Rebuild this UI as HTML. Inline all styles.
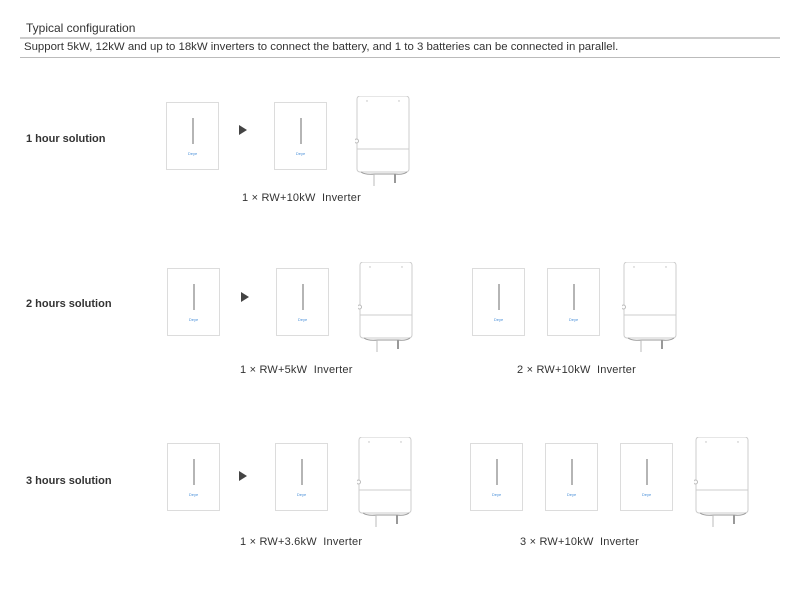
<!DOCTYPE html>
<html><head><style>
body{margin:0;width:800px;height:600px;background:#fff;position:relative;font-family:"Liberation Sans",sans-serif;overflow:hidden}
.t{position:absolute;color:#333}
.b{position:absolute;width:51px;height:66px;border:1px solid #dcdcdc;background:#fff}
.b:before{content:"";position:absolute;left:25px;top:15px;width:2px;height:26px;background:#b5b5b5}
.b:after{content:"Deye";position:absolute;left:0;right:0;top:48px;text-align:center;font-size:4px;color:#4a90d9}
.a{position:absolute;width:0;height:0;border-top:5px solid transparent;border-bottom:5px solid transparent;border-left:8px solid #444}
.lbl{position:absolute;font-size:11px;color:#333;letter-spacing:.2px}
.h{position:absolute;left:26px;font-size:11px;font-weight:bold;color:#333}
</style></head><body>
<div class="t" style="left:26px;top:21px;font-size:12px">Typical configuration</div>
<div style="position:absolute;left:20px;top:37px;width:760px;height:2px;background:#ccc"></div>
<div class="t" style="left:24px;top:41px;font-size:11.4px">Support 5kW, 12kW and up to 18kW inverters to connect the battery, and 1 to 3 batteries can be connected in parallel.</div>
<div style="position:absolute;left:20px;top:57px;width:760px;height:1px;background:#bbb"></div>

<svg width="0" height="0" style="position:absolute"><defs>
<g id="inv">
<rect x="2" y="0" width="52" height="76" rx="3" fill="#fff" stroke="#ccc"/>
<line x1="2" y1="53" x2="54" y2="53" stroke="#ccc"/>
<circle cx="1.5" cy="45" r="2" fill="#fff" stroke="#bbb"/>
<path d="M6 76 Q10 79 20 78 L40 78 Q48 79 52 76" fill="none" stroke="#999"/>
<line x1="19" y1="78" x2="19" y2="90" stroke="#bbb"/>
<line x1="40" y1="78" x2="40" y2="87" stroke="#999" stroke-width="2"/>
<circle cx="12" cy="5" r=".7" fill="#bbb"/><circle cx="44" cy="5" r=".7" fill="#bbb"/>
</g></defs></svg>

<div class="h" style="top:133px">1 hour solution</div>
<div class="b" style="left:166px;top:102px"></div>
<div class="a" style="left:239px;top:125px"></div>
<div class="b" style="left:274px;top:102px"></div>
<svg style="position:absolute;left:355px;top:96px" width="60" height="95"><use href="#inv"/></svg>
<div class="lbl" style="left:242px;top:192px">1 × RW+10kW&nbsp; Inverter</div>

<div class="h" style="top:298px">2 hours solution</div>
<div class="b" style="left:167px;top:268px"></div>
<div class="a" style="left:241px;top:292px"></div>
<div class="b" style="left:276px;top:268px"></div>
<svg style="position:absolute;left:358px;top:262px" width="60" height="95"><use href="#inv"/></svg>
<div class="lbl" style="left:240px;top:364px">1 × RW+5kW&nbsp; Inverter</div>
<div class="b" style="left:472px;top:268px"></div>
<div class="b" style="left:547px;top:268px"></div>
<svg style="position:absolute;left:622px;top:262px" width="60" height="95"><use href="#inv"/></svg>
<div class="lbl" style="left:517px;top:364px">2 × RW+10kW&nbsp; Inverter</div>

<div class="h" style="top:475px">3 hours solution</div>
<div class="b" style="left:167px;top:443px"></div>
<div class="a" style="left:239px;top:471px"></div>
<div class="b" style="left:275px;top:443px"></div>
<svg style="position:absolute;left:357px;top:437px" width="60" height="95"><use href="#inv"/></svg>
<div class="lbl" style="left:240px;top:536px">1 × RW+3.6kW&nbsp; Inverter</div>
<div class="b" style="left:470px;top:443px"></div>
<div class="b" style="left:545px;top:443px"></div>
<div class="b" style="left:620px;top:443px"></div>
<svg style="position:absolute;left:694px;top:437px" width="60" height="95"><use href="#inv"/></svg>
<div class="lbl" style="left:520px;top:536px">3 × RW+10kW&nbsp; Inverter</div>
</body></html>
